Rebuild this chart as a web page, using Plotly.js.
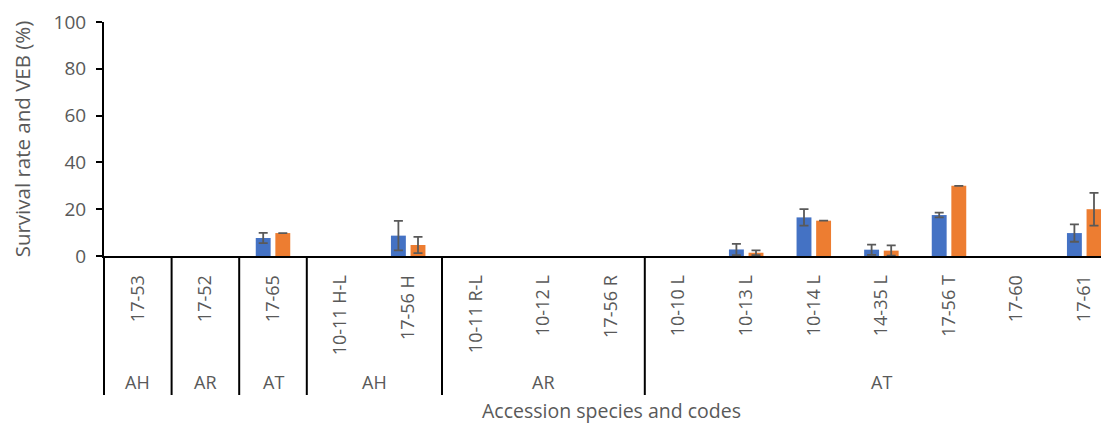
<!DOCTYPE html>
<html>
<head>
<meta charset="utf-8">
<script src="https://cdn.plot.ly/plotly-3.0.1.min.js"></script>
<style>html,body{margin:0;padding:0;background:#fff;}#chart{width:1101px;height:423px;}</style>
</head>
<body>
<div id="chart"></div>
<script>
// Accession codes (level 1) and species groups (level 2)
var codes = ['17-53','17-52','17-65','10-11 H-L','17-56 H','10-11 R-L','10-12 L','17-56 R','10-10 L','10-13 L','10-14 L','14-35 L','17-56 T','17-60','17-61'];
var groupNames = ['AH','AR','AT','AH','AR','AT'];
var groupSizes = [1, 1, 1, 2, 3, 7];

// Series values (%) and error bars (null = no error bar shown)
var survival    = [0, 0, 7.7, 0, 8.7, 0, 0, 0, 0, 2.8, 16.5, 2.7, 17.5, 0, 9.8];
var survivalErr = [null, null, 2.2, null, 6.3, null, null, null, null, 2.4, 3.5, 2.2, 1.0, null, 3.7];
var veb         = [0, 0, 9.8, 0, 4.7, 0, 0, 0, 0, 1.4, 15.1, 2.3, 30, 0, 20];
var vebErr      = [null, null, 0, null, 3.5, null, null, null, null, 1.0, 0, 2.2, 0, null, 7.0];

var grey = '#595959';
var FONT = 'Open Sans, Noto Sans, sans-serif';
var idx = codes.map(function(c, i){ return i; });
function errs(a){ return a.map(function(v){ return v === null ? NaN : v; }); }

var traces = [
  {type:'bar', name:'Survival rate', x: idx, y: survival,
   marker:{color:'#4472C4', line:{width:0}},
   error_y:{type:'data', array: errs(survivalErr), visible:true, color:grey, thickness:1.8, width:4.5}},
  {type:'bar', name:'VEB', x: idx, y: veb,
   marker:{color:'#ED7D31', line:{width:0}},
   error_y:{type:'data', array: errs(vebErr), visible:true, color:grey, thickness:1.8, width:4.5}}
];

// plot area geometry (px) used for below-axis decorations
var plotTop = 22, plotBottom = 256, plotH = plotBottom - plotTop;
function py(pix){ return (plotBottom - pix) / plotH; }

var shapes = [], annotations = [];
var start = -0.5;
// left boundary of first group at plot edge
shapes.push({type:'line', xref:'paper', yref:'paper', x0:0, x1:0, y0:0, y1:py(395), line:{color:'#000', width:2}});
groupSizes.forEach(function(sz, g){
  var end = start + sz;
  if (g < groupSizes.length - 1) {
    shapes.push({type:'line', xref:'x', yref:'paper', x0:end, x1:end, y0:0, y1:py(395), line:{color:'#000', width:2}});
  }
  annotations.push({xref:'x', yref:'paper', x:(start+end)/2, y:py(382), text:groupNames[g], showarrow:false,
    xanchor:'center', yanchor:'middle', font:{family:FONT, size:18, color:grey}});
  start = end;
});
annotations.push({xref:'x', yref:'paper', x:(codes.length-1)/2, y:py(410), text:'Accession species and codes',
  showarrow:false, xanchor:'center', yanchor:'middle', font:{family:FONT, size:19.5, color:grey}});

var catW = 67.6;
var plotW = 1101 - 104;

var layout = {
  width:1101, height:423,
  margin:{l:104, r:0, t:plotTop, b:423-plotBottom, pad:0},
  paper_bgcolor:'#fff', plot_bgcolor:'#fff',
  showlegend:false,
  barmode:'group', bargap:0.42, bargroupgap:0.24,
  font:{family:FONT, color:grey},
  xaxis:{
    type:'linear', range:[-0.5, -0.5 + plotW/catW],
    tickmode:'array', tickvals: idx, ticktext: codes,
    tickangle:-90, ticks:'', showgrid:false, zeroline:false,
    showline:true, linecolor:'#000', linewidth:2,
    tickfont:{family:FONT, size:18, color:grey},
    ticklabelstandoff:10
  },
  yaxis:{
    range:[0,100], dtick:20, tick0:0,
    ticks:'outside', ticklen:6, tickwidth:2, tickcolor:'#000',
    showgrid:false, zeroline:false,
    showline:true, linecolor:'#000', linewidth:2,
    tickfont:{family:FONT, size:19, color:grey},
    ticklabelstandoff:6,
    title:{text:'Survival rate and VEB (%)', font:{family:FONT, size:20.5, color:grey}, standoff:17}
  },
  shapes: shapes,
  annotations: annotations
};

Plotly.newPlot('chart', traces, layout, {displayModeBar:false, staticPlot:true});
</script>
</body>
</html>
